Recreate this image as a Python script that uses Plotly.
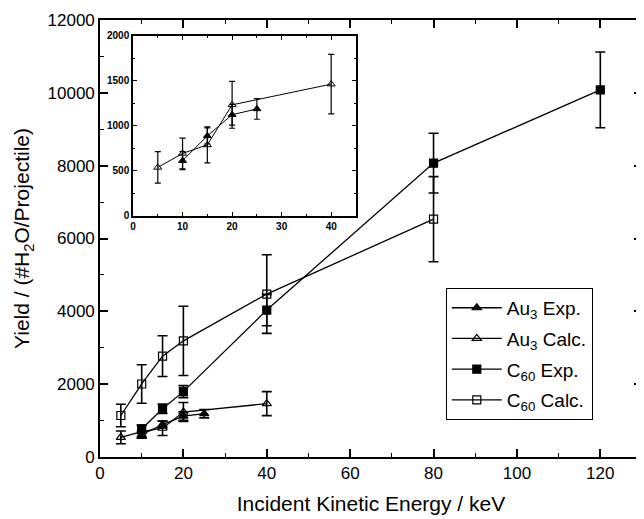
import plotly.graph_objects as go

# --- data ---
au3_exp_x = [10, 15, 20, 25]
au3_exp_y = [615, 890, 1125, 1190]
au3_exp_err = [100, 90, 115, 115]

au3_calc_x = [5, 10, 15, 20, 40]
au3_calc_y = [540, 695, 790, 1235, 1465]
au3_calc_err = [175, 170, 200, 260, 330]

c60_exp_x = [10, 15, 20, 40, 80, 120]
c60_exp_y = [770, 1325, 1795, 4035, 8070, 10080]
c60_exp_err = [110, 130, 165, 430, 820, 1040]

c60_calc_x = [5, 10, 15, 20, 40, 80]
c60_calc_y = [1140, 2005, 2770, 3190, 4475, 6530]
c60_calc_err = [310, 530, 560, 950, 1080, 1170]

x_ticks = [0, 20, 40, 60, 80, 100, 120]
y_ticks = [0, 2000, 4000, 6000, 8000, 10000, 12000]
inset_x_ticks = [0, 10, 20, 30, 40]
inset_y_ticks = [0, 500, 1000, 1500, 2000]

FONT = "Arial, Liberation Sans, sans-serif"

series = [
    ("Au<sub>3</sub> Exp.", au3_exp_x, au3_exp_y, au3_exp_err, "triangle-up"),
    ("Au<sub>3</sub> Calc.", au3_calc_x, au3_calc_y, au3_calc_err, "triangle-up-open"),
    ("C<sub>60</sub> Exp.", c60_exp_x, c60_exp_y, c60_exp_err, "square"),
    ("C<sub>60</sub> Calc.", c60_calc_x, c60_calc_y, c60_calc_err, "square-open"),
]

fig = go.Figure()

# main panel
for i, (name, x, y, err, sym) in enumerate(series):
    fig.add_trace(go.Scatter(
        x=x, y=y, name=name, mode="lines+markers", legendgroup=f"g{i}",
        line=dict(color="black", width=1.3),
        marker=dict(symbol=sym, size=8, color="black", line=dict(color="black", width=1.2)),
        error_y=dict(type="data", array=err, color="black", thickness=1.6, width=5),
    ))

# inset: Au3 only
for name, x, y, err, sym in series[:2]:
    fig.add_trace(go.Scatter(
        x=x, y=y, name=name, mode="lines+markers", showlegend=False,
        xaxis="x2", yaxis="y2",
        line=dict(color="black", width=1),
        marker=dict(symbol=sym, size=7, color="black", line=dict(color="black", width=1)),
        error_y=dict(type="data", array=err, color="black", thickness=1.2, width=3),
    ))

axis_common = dict(
    showgrid=False, zeroline=False, showline=True, linecolor="black",
    ticks="inside", mirror="allticks", tickcolor="black", automargin=False,
    tickformat="d",
)

# page body keeps its default 8px margin, so the figure is sized to fit the window
fig.update_layout(
    width=636, height=511,
    margin=dict(l=92, r=2, t=12, b=62),
    paper_bgcolor="white", plot_bgcolor="white",
    font=dict(family=FONT, color="black", size=16),
    showlegend=True,
    legend=dict(
        x=0.638, y=0.387, xanchor="left", yanchor="top",
        bordercolor="black", borderwidth=1, bgcolor="white",
        font=dict(size=19, family=FONT), tracegroupgap=3, itemwidth=50,
        traceorder="grouped",
    ),
    xaxis=dict(
        **axis_common, range=[0, 130], tickvals=x_ticks, linewidth=1.6,
        ticklen=8, tickwidth=1.5,
        minor=dict(dtick=10, ticks="inside", ticklen=4, tickcolor="black", tickwidth=1.2),
        tickfont=dict(size=17),
        title=dict(text="Incident Kinetic Energy / keV", font=dict(size=21), standoff=14),
    ),
    yaxis=dict(
        **axis_common, range=[0, 12000], tickvals=y_ticks, linewidth=1.6,
        ticklen=8, tickwidth=1.5,
        minor=dict(dtick=1000, ticks="inside", ticklen=4, tickcolor="black", tickwidth=1.2),
        tickfont=dict(size=17),
        title=dict(text="Yield / (#H<sub>2</sub>O/Projectile)", font=dict(size=21), standoff=12),
    ),
    xaxis2=dict(
        **axis_common, domain=[0.0609, 0.4723], anchor="y2", range=[0, 45],
        tickvals=inset_x_ticks, linewidth=1.5, ticklen=4, tickwidth=1.2,
        minor=dict(dtick=5, ticks="inside", ticklen=2, tickcolor="black"),
        tickfont=dict(size=10, family=FONT, weight="bold"),
    ),
    yaxis2=dict(
        **axis_common, domain=[0.5515, 0.9634], anchor="x2", range=[0, 2000],
        tickvals=inset_y_ticks, linewidth=1.5, ticklen=4, tickwidth=1.2,
        minor=dict(dtick=250, ticks="inside", ticklen=2, tickcolor="black"),
        tickfont=dict(size=10, family=FONT, weight="bold"),
    ),
)

fig.write_html("out.html")
